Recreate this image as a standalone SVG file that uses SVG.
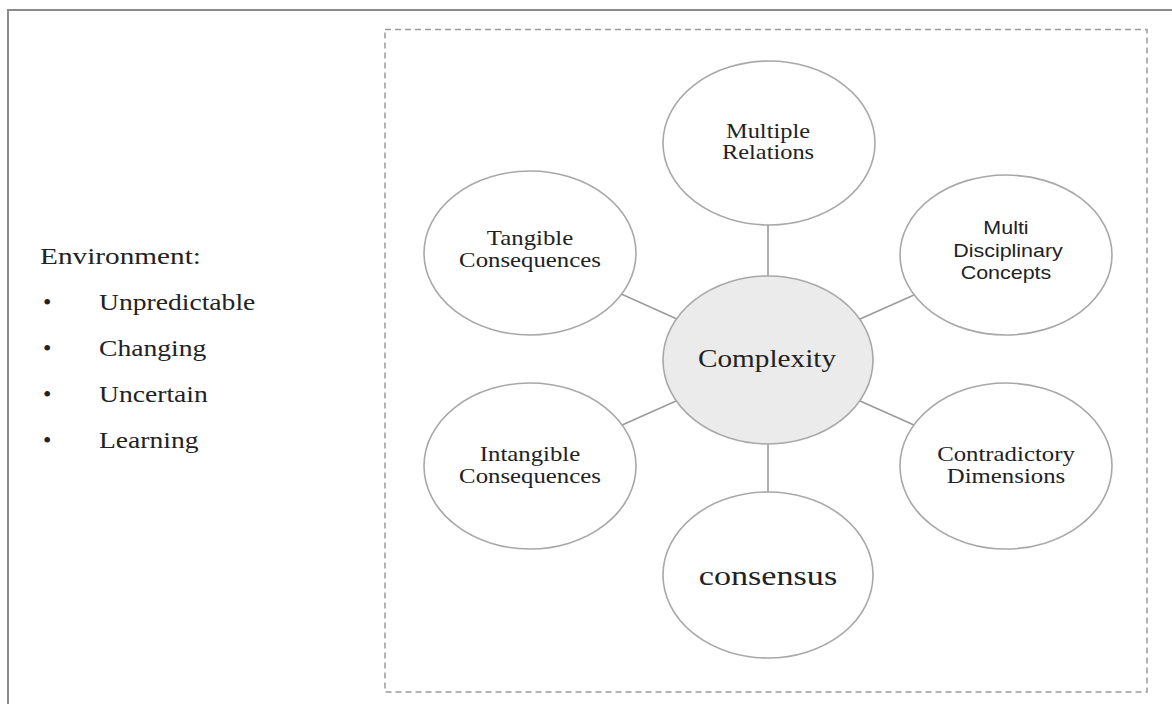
<svg xmlns="http://www.w3.org/2000/svg" width="1172" height="704" viewBox="0 0 1172 704">
  <style>
    .frame { fill: none; stroke: #8a8a8a; stroke-width: 2; }
    .dash { fill: none; stroke: #9a9a9a; stroke-width: 1.5; stroke-dasharray: 6 4; }
    .node { fill: #ffffff; stroke: #a8a8a8; stroke-width: 1.6; }
    .hub { fill: #ebebeb; stroke: #a8a8a8; stroke-width: 1.6; }
    .link { stroke: #9a9a9a; stroke-width: 1.6; }
    .serif { font-family: "Liberation Serif", "Times New Roman", serif; fill: #222; text-anchor: middle; }
    .sans { font-family: "Liberation Sans", Arial, sans-serif; fill: #222; text-anchor: middle; }
    .env { font-family: "Liberation Serif", "Times New Roman", serif; fill: #222; font-size: 24px; }
  </style>

  <rect width="1172" height="704" fill="#ffffff"/>
  <path class="frame" d="M8,704 V10 H1172"/>
  <rect class="dash" x="385" y="29.5" width="762" height="662.5"/>

  <!-- environment list -->
  <g id="environment">
    <text class="env" font-size="25" transform="translate(40,264) scale(1.22,1)">Environment:</text>
    <text class="env" x="43" y="310">•</text>
    <text class="env" transform="translate(99,310) scale(1.15,1)">Unpredictable</text>
    <text class="env" x="43" y="356">•</text>
    <text class="env" transform="translate(99,356) scale(1.15,1)">Changing</text>
    <text class="env" x="43" y="402">•</text>
    <text class="env" transform="translate(99,402) scale(1.15,1)">Uncertain</text>
    <text class="env" x="43" y="448">•</text>
    <text class="env" transform="translate(99,448) scale(1.15,1)">Learning</text>
  </g>

  <!-- spokes from the hub to each satellite -->
  <g id="connectors">
    <line class="link" x1="768" y1="360" x2="768" y2="143"/>
    <line class="link" x1="768" y1="360" x2="530" y2="253"/>
    <line class="link" x1="768" y1="360" x2="1006" y2="254"/>
    <line class="link" x1="768" y1="360" x2="530" y2="466"/>
    <line class="link" x1="768" y1="360" x2="1006" y2="466"/>
    <line class="link" x1="768" y1="360" x2="768" y2="575"/>
  </g>

  <g id="multiple-relations">
    <ellipse class="node" cx="769" cy="143" rx="106" ry="82"/>
    <text class="serif" font-size="20" transform="translate(768,138) scale(1.22,1)">Multiple</text>
    <text class="serif" font-size="20" transform="translate(768,159) scale(1.22,1)">Relations</text>
  </g>

  <g id="tangible-consequences">
    <ellipse class="node" cx="530" cy="253" rx="106" ry="82"/>
    <text class="serif" font-size="20" transform="translate(530,245) scale(1.24,1)">Tangible</text>
    <text class="serif" font-size="20" transform="translate(530,267) scale(1.24,1)">Consequences</text>
  </g>

  <g id="multi-disciplinary-concepts">
    <ellipse class="node" cx="1006" cy="255" rx="106" ry="80"/>
    <text class="sans" font-size="18.5" transform="translate(1006,234) scale(1.16,1)">Multi</text>
    <text class="sans" font-size="18.5" transform="translate(1008,256.5) scale(1.16,1)">Disciplinary</text>
    <text class="sans" font-size="18.5" transform="translate(1006,279) scale(1.16,1)">Concepts</text>
  </g>

  <g id="complexity">
    <ellipse class="hub" cx="768" cy="360" rx="105" ry="84"/>
    <text class="serif" font-size="25" transform="translate(767,367) scale(1.17,1)">Complexity</text>
  </g>

  <g id="intangible-consequences">
    <ellipse class="node" cx="530" cy="466" rx="106" ry="83"/>
    <text class="serif" font-size="20" transform="translate(530,461) scale(1.24,1)">Intangible</text>
    <text class="serif" font-size="20" transform="translate(530,483) scale(1.24,1)">Consequences</text>
  </g>

  <g id="contradictory-dimensions">
    <ellipse class="node" cx="1006" cy="466" rx="106" ry="83"/>
    <text class="serif" font-size="20" transform="translate(1006,461) scale(1.24,1)">Contradictory</text>
    <text class="serif" font-size="20" transform="translate(1006,482.5) scale(1.24,1)">Dimensions</text>
  </g>

  <g id="consensus">
    <ellipse class="node" cx="768" cy="575" rx="105" ry="83"/>
    <text class="serif" font-size="28" transform="translate(768,585) scale(1.22,1)">consensus</text>
  </g>
</svg>
